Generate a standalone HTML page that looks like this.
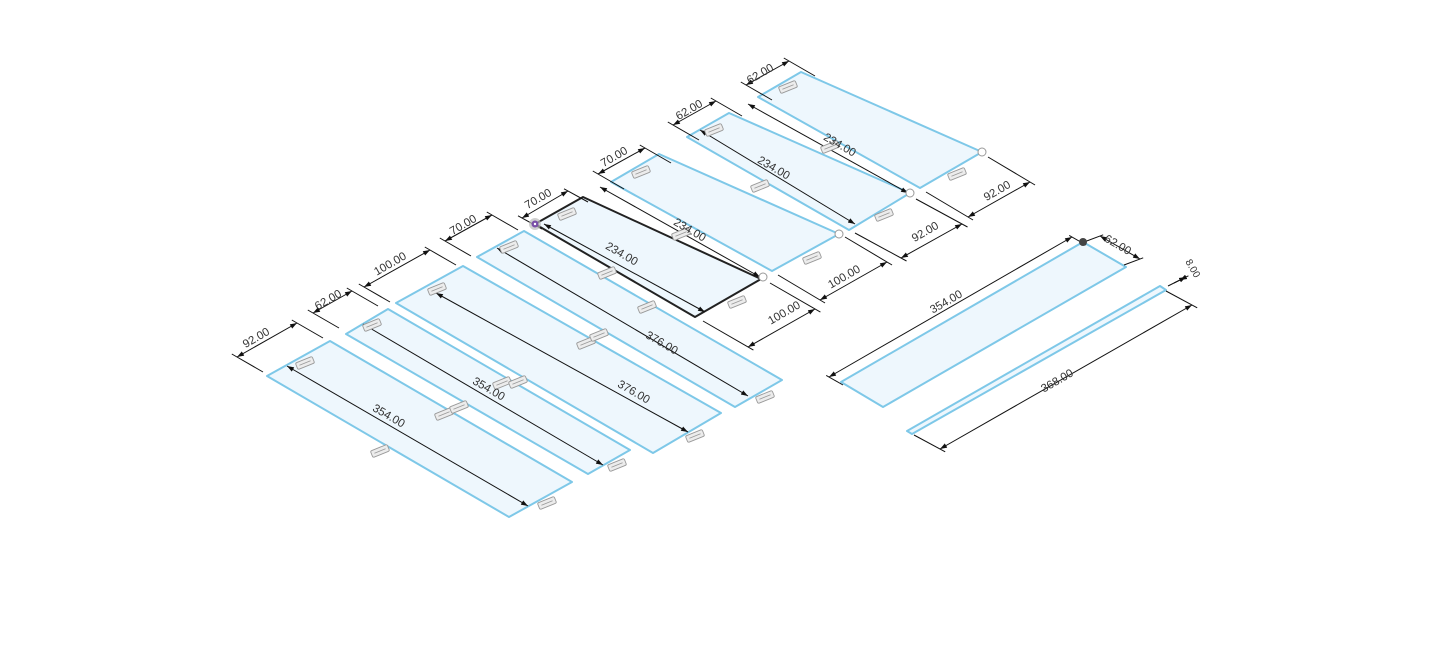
<!DOCTYPE html>
<html><head><meta charset="utf-8"><style>
html,body{margin:0;padding:0;background:#fff;}
svg{display:block;}
text{font-family:"Liberation Sans",sans-serif;font-size:11.5px;fill:#333;}
</style></head><body>
<svg id="s" width="1453" height="648" viewBox="0 0 1453 648" xmlns="http://www.w3.org/2000/svg">
<defs>
<marker id="ar" viewBox="0 0 10 10" refX="10" refY="5" markerWidth="7" markerHeight="7" orient="auto-start-reverse" markerUnits="userSpaceOnUse"><path d="M0,1.5 L10,5 L0,8.5z" fill="#111"/></marker>
<g id="bd"><rect x="-9" y="-3.5" width="18" height="7" rx="1.5" fill="#ececec" stroke="#999" stroke-width="0.9"/><line x1="-6" y1="0" x2="6" y2="0" stroke="#999" stroke-width="0.8"/></g>
</defs>
<g fill="#eef7fd" stroke="#7ec8e8" stroke-width="2" stroke-linejoin="round">
<polygon points="267,376 330,341 572,482 509,517"/>
<polygon points="346,334 388,309 630,450 588,474"/>
<polygon points="396,303 463,266 721,413 653,453"/>
<polygon points="477,257 524,231 782,380 735,407"/>
<polygon points="611,182 659,154 839,234 772,271"/>
<polygon points="687,137 729,113 910,193 849,230"/>
<polygon points="758,97 801,72 982,152 920,188"/>
<polygon points="841,382 1083,242 1126,267 883,407"/>
<polygon points="907,431 1160,286 1166,290 912,434"/>
</g>
<polygon points="535,224 583,197 761,279 695,317" fill="#eef7fd" stroke="#222" stroke-width="2" stroke-linejoin="round"/>
<g id="dims" stroke="#111" stroke-width="1" fill="none"></g>
<g id="badges"></g>
<g stroke="#999" stroke-width="1" fill="#fff">
<circle cx="763" cy="277" r="4"/><circle cx="839" cy="234" r="4"/><circle cx="910" cy="193" r="4"/><circle cx="982" cy="152" r="4"/>
</g>
<circle cx="535" cy="224" r="6" fill="#bbb" opacity="0.7"/>
<circle cx="535" cy="224" r="3.5" fill="#7a4fa8"/><circle cx="535" cy="224" r="1.2" fill="#fff"/>
<circle cx="1083" cy="242" r="4" fill="#444"/>
<g>
<text transform="translate(258,341) rotate(-30)" text-anchor="middle">92.00</text>
<text transform="translate(330,303) rotate(-30)" text-anchor="middle">62.00</text>
<text transform="translate(392,267) rotate(-30)" text-anchor="middle">100.00</text>
<text transform="translate(465,228) rotate(-30)" text-anchor="middle">70.00</text>
<text transform="translate(540,202) rotate(-30)" text-anchor="middle">70.00</text>
<text transform="translate(616,160) rotate(-30)" text-anchor="middle">70.00</text>
<text transform="translate(691,113) rotate(-30)" text-anchor="middle">62.00</text>
<text transform="translate(762,77) rotate(-30)" text-anchor="middle">62.00</text>
<text transform="translate(786,316) rotate(-30)" text-anchor="middle">100.00</text>
<text transform="translate(846,280) rotate(-30)" text-anchor="middle">100.00</text>
<text transform="translate(927,235) rotate(-30)" text-anchor="middle">92.00</text>
<text transform="translate(999,194) rotate(-30)" text-anchor="middle">92.00</text>
<text transform="translate(948,305) rotate(-30)" text-anchor="middle">354.00</text>
<text transform="translate(1059,384) rotate(-30)" text-anchor="middle">368.00</text>
<text transform="translate(1116,248) rotate(30)" text-anchor="middle">62.00</text>
<text transform="translate(1190,270) rotate(60)" text-anchor="middle" style="font-size:10px">8.00</text>
<text transform="translate(387,419) rotate(30)" text-anchor="middle">354.00</text>
<text transform="translate(487,392) rotate(30)" text-anchor="middle">354.00</text>
<text transform="translate(632,395) rotate(30)" text-anchor="middle">376.00</text>
<text transform="translate(660,346) rotate(30)" text-anchor="middle">376.00</text>
<text transform="translate(620,257) rotate(30)" text-anchor="middle">234.00</text>
<text transform="translate(688,233) rotate(30)" text-anchor="middle">234.00</text>
<text transform="translate(772,171) rotate(30)" text-anchor="middle">234.00</text>
<text transform="translate(838,148) rotate(30)" text-anchor="middle">234.00</text>
</g>
<script>
var NS="http://www.w3.org/2000/svg",g=document.getElementById("dims");
function L(x1,y1,x2,y2,arr){var l=document.createElementNS(NS,"line");l.setAttribute("x1",x1);l.setAttribute("y1",y1);l.setAttribute("x2",x2);l.setAttribute("y2",y2);if(arr){l.setAttribute("marker-start","url(#ar)");l.setAttribute("marker-end","url(#ar)");}g.appendChild(l);}
function D(a,b,e,k){L(a[0],a[1],b[0],b[1],true);if(e){k=k||-0.2;L(a[0]+e[0]*k,a[1]+e[1]*k,a[0]+e[0],a[1]+e[1]);L(b[0]+e[0]*k,b[1]+e[1]*k,b[0]+e[0],b[1]+e[1]);}}
var w=[26,15];
D([237,357],[297,323],w);D([313,313],[352,291],w);D([364,287],[430,250],w);D([445,241],[492,215],w);
D([522,218],[568,191],[20,11]);D([598,174],[645,148],w);D([673,125],[716,101],w);D([746,85],[789,61],w);
D([748,347],[815,309],[-45,-26],-0.12);D([820,300],[887,262],[-42,-25],-0.12);D([901,258],[962,224],[-46,-25],-0.12);D([968,217],[1030,182],[-42,-25],-0.12);
D([829,377],[1072,237],[14,8]);D([1100,236],[1140,259],[-16,6]);D([940,449],[1192,305],[-26,-14]);
D([1180,280],[1186,277],[-12,6]);
D([287,366],[528,506]);D([363,324],[603,465]);D([436,293],[688,432]);D([497,248],[748,396]);
D([544,224],[705,312]);D([600,187],[760,277]);D([700,130],[855,224]);D([748,104],[908,193]);
var bg=document.getElementById("badges");
[[305,363],[372,325],[437,289],[509,247],[567,214],[641,172],[714,130],[788,87],[380,451],[444,414],[459,407],[502,383],[518,382],[586,343],[599,335],[607,273],[647,307],[737,302],[760,186],[812,258],[884,215],[957,174],[547,503],[617,465],[695,436],[765,397],[681,234],[830,147]].forEach(function(p){var u=document.createElementNS(NS,"use");u.setAttribute("href","#bd");u.setAttribute("transform","translate("+p[0]+","+p[1]+") rotate(-22)");bg.appendChild(u);});
</script>
</svg>
</body></html>
